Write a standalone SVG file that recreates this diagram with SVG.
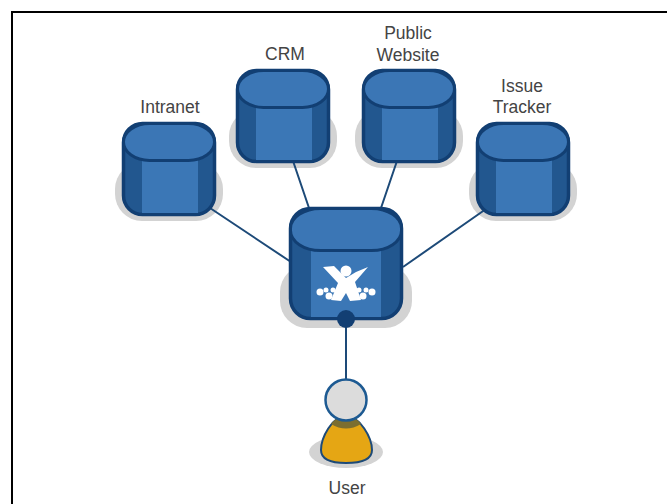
<svg xmlns="http://www.w3.org/2000/svg" width="667" height="504" viewBox="0 0 667 504">
<style>
.label{font:17.500px "Liberation Sans",Arial,sans-serif;fill:#444;text-anchor:middle}
.shadow{fill:#d3d3d3}
.body{fill:#22578f;stroke:#123f73;stroke-width:3.5}
.front{fill:#3b77b6}
.top{fill:#3b76b5;stroke:#123f73;stroke-width:3}
.link{stroke:#1d4a78;stroke-width:2;fill:none}
</style>
<defs>
<rect id="db-shadow" class="shadow" x="-7" y="40" width="108" height="59" rx="27"/>
<g id="db">
<rect class="body" x="1.500" y="1.500" width="91" height="91" rx="19"/>
<rect class="front" x="20" y="30" width="56" height="61"/>
<rect class="top" x="1.500" y="1.500" width="91" height="37" rx="26" ry="18.500"/>
</g>
</defs>
<rect width="667" height="504" fill="#fff"/>
<path d="M12 504V12H667" fill="none" stroke="#000" stroke-width="2"/>
<g id="shadows">
<use href="#db-shadow" x="122" y="122"/>
<use href="#db-shadow" x="236" y="69"/>
<use href="#db-shadow" x="362" y="69"/>
<use href="#db-shadow" x="476" y="122"/>
<rect class="shadow" x="280" y="265" width="132" height="63" rx="27"/>
<ellipse cx="346" cy="452" rx="37" ry="16" fill="#d3d3d3"/>
</g>
<g id="connectors">
<path class="link" d="M207 206L291 262M292 158L309 208M398 158L381 208M486 209L403 267M346 320V382"/>
</g>
<g id="node-intranet"><use href="#db" x="122" y="122"/><text class="label" x="170" y="113">Intranet</text></g>
<g id="node-crm"><use href="#db" x="236" y="69"/><text class="label" x="285" y="60">CRM</text></g>
<g id="node-website"><use href="#db" x="362" y="69"/><text class="label" x="408" y="39">Public</text><text class="label" x="408" y="61">Website</text></g>
<g id="node-tracker"><use href="#db" x="476" y="122"/><text class="label" x="522" y="92">Issue</text><text class="label" x="522" y="113">Tracker</text></g>
<g id="node-sso">
<rect class="body" x="290.500" y="208.500" width="111" height="110" rx="20"/>
<rect class="front" x="311" y="250" width="70" height="67"/>
<rect class="top" x="290.500" y="208.500" width="111" height="42" rx="30" ry="20"/>
<g fill="#fff">
<path d="M323 267L334 266L346 278L356 272L368 267L355 282L361 300L350 301L346 293L341 301L331 300L338 283Z"/>
<circle cx="346" cy="271" r="5.500"/>
<circle cx="320" cy="292" r="3.500"/><circle cx="326" cy="290" r="2.500"/><circle cx="329" cy="296" r="3.500"/><circle cx="333" cy="290" r="2.500"/>
<circle cx="372" cy="292" r="3.500"/><circle cx="366" cy="290" r="2.500"/><circle cx="363" cy="296" r="3.500"/><circle cx="359" cy="290" r="2.500"/>
</g>
<circle cx="346" cy="319" r="9" fill="#123f73"/>
</g>
<g id="node-user">
<path d="M346 416C332 416 321 438 321 450C321 461 334 463 346 463C358 463 372 461 372 450C372 438 360 416 346 416Z" fill="#e5a614" stroke="#1d4a78" stroke-width="2"/>
<path d="M331 424Q346 433 361 424Q355 416 346 416Q337 416 331 424Z" fill="#7c6e30"/>
<circle cx="346" cy="400" r="20.500" fill="#dcdcdc" stroke="#1d5a92" stroke-width="2.500"/>
<text class="label" x="347" y="494">User</text>
</g>
</svg>
